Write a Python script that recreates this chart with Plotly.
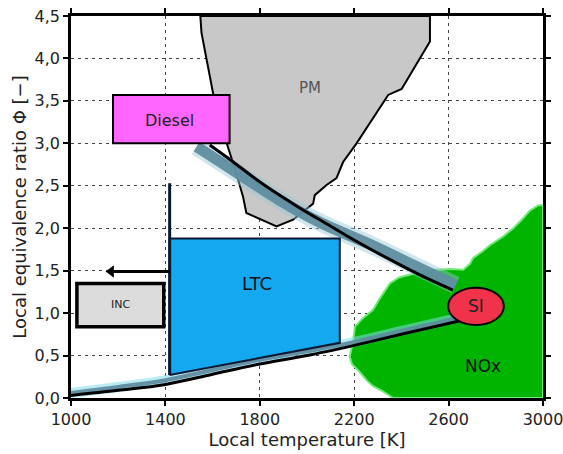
import plotly.graph_objects as go

# ---- data ----
x_ticks = [1000, 1400, 1800, 2200, 2600, 3000]
y_ticks = [0.0, 0.5, 1.0, 1.5, 2.0, 2.5, 3.0, 3.5, 4.0, 4.5]

pm_T = [1548, 1553, 1602, 1660, 1700, 1729, 1743, 1871, 1941, 2026, 2033, 2083, 2125, 2153, 2210, 2344, 2401, 2521, 2521, 1548]
pm_phi = [4.5, 4.30, 3.59, 3.0, 2.65, 2.37, 2.18, 2.02, 2.10, 2.29, 2.39, 2.51, 2.59, 2.78, 3.0, 3.57, 3.64, 4.20, 4.5, 4.5]

nox_T = [3000, 2365, 2320, 2280, 2252, 2225, 2190, 2181, 2195, 2203, 2240, 2280, 2310, 2351, 2390, 2436, 2500, 2549, 2610, 2662, 2690, 2704, 2740, 2775, 2830, 2874, 2910, 2945, 2980, 3000, 3000]
nox_phi = [0.0, 0.0, 0.08, 0.14, 0.21, 0.30, 0.40, 0.49, 0.66, 0.84, 0.95, 1.04, 1.18, 1.35, 1.42, 1.45, 1.50, 1.51, 1.52, 1.51, 1.58, 1.65, 1.72, 1.80, 1.90, 2.0, 2.10, 2.21, 2.27, 2.27, 0.0]

diesel_si_T = [1588, 1673, 1813, 1957, 2097, 2194, 2338, 2478, 2618]
diesel_si_phi = [2.98, 2.81, 2.52, 2.26, 2.03, 1.87, 1.65, 1.45, 1.27]

upper_band_T = [1532, 1600, 1884, 2054, 2266, 2478, 2630]
upper_band_phi = [2.96, 2.84, 2.33, 2.07, 1.81, 1.53, 1.33]

lower_T = [1000, 1200, 1400, 1600, 1800, 2000, 2200, 2400, 2650]
lower_phi = [0.03, 0.09, 0.16, 0.28, 0.40, 0.50, 0.62, 0.75, 0.91]
lower_band_phi = [0.06, 0.13, 0.21, 0.33, 0.45, 0.55, 0.66, 0.79, 0.95]

ltc_T = [1418, 1418, 2139, 2139, 1418]
ltc_phi = [0.27, 1.88, 1.88, 0.65, 0.27]
ltc_line_T = [1418, 1418]
ltc_line_phi = [2.53, 0.27]

diesel_box = [1178, 1672, 3.0, 3.57]
inc_box = [1025, 1393, 0.84, 1.35]
si_ellipse = [2598, 2834, 0.86, 1.30]
arrow_T = [1418, 1170]
arrow_phi = [1.49, 1.49]

labels = ["PM", "Diesel", "LTC", "INC", "SI", "NOx"]
label_T = [2012, 1419, 1787, 1209, 2716, 2745]
label_phi = [3.65, 3.27, 1.35, 1.10, 1.08, 0.38]

# ---- figure ----
fig = go.Figure()

fig.add_trace(go.Scatter(x=nox_T, y=nox_phi, mode="lines", fill="toself",
                         fillcolor="rgb(0,180,0)",
                         line=dict(color="rgb(110,235,120)", width=2), hoverinfo="skip"))
fig.add_trace(go.Scatter(x=pm_T, y=pm_phi, mode="lines", fill="toself",
                         fillcolor="rgb(200,200,200)",
                         line=dict(color="black", width=2), hoverinfo="skip"))
# shadow bands
fig.add_trace(go.Scatter(x=upper_band_T, y=upper_band_phi, mode="lines",
                         line=dict(color="rgba(150,200,215,0.45)", width=18, shape="spline"), hoverinfo="skip"))
fig.add_trace(go.Scatter(x=upper_band_T, y=upper_band_phi, mode="lines",
                         line=dict(color="rgba(95,142,160,0.95)", width=11, shape="spline"), hoverinfo="skip"))
fig.add_trace(go.Scatter(x=lower_T, y=lower_band_phi, mode="lines",
                         line=dict(color="rgba(130,220,235,0.55)", width=10, shape="spline"), hoverinfo="skip"))
fig.add_trace(go.Scatter(x=lower_T, y=lower_band_phi, mode="lines",
                         line=dict(color="rgba(95,140,160,0.95)", width=4, shape="spline"), hoverinfo="skip"))
# curves
fig.add_trace(go.Scatter(x=diesel_si_T, y=diesel_si_phi, mode="lines",
                         line=dict(color="black", width=3, shape="spline"), hoverinfo="skip"))
fig.add_trace(go.Scatter(x=lower_T, y=lower_phi, mode="lines",
                         line=dict(color="black", width=3, shape="spline"), hoverinfo="skip"))
# LTC
fig.add_trace(go.Scatter(x=ltc_T, y=ltc_phi, mode="lines", fill="toself",
                         fillcolor="rgb(20,168,240)",
                         line=dict(color="rgb(10,25,50)", width=2), hoverinfo="skip"))
fig.add_trace(go.Scatter(x=ltc_line_T, y=ltc_line_phi, mode="lines",
                         line=dict(color="rgb(10,25,50)", width=3), hoverinfo="skip"))
# arrow
fig.add_trace(go.Scatter(x=arrow_T, y=arrow_phi, mode="lines",
                         line=dict(color="black", width=3), hoverinfo="skip"))
fig.add_trace(go.Scatter(x=arrow_T[1:], y=arrow_phi[1:], mode="markers",
                         marker=dict(symbol="triangle-left", size=11, color="black"), hoverinfo="skip"))

fig.add_shape(type="rect", x0=diesel_box[0], x1=diesel_box[1], y0=diesel_box[2], y1=diesel_box[3],
              fillcolor="rgb(255,102,255)", line=dict(color="black", width=2), layer="above")
fig.add_shape(type="rect", x0=inc_box[0], x1=inc_box[1], y0=inc_box[2], y1=inc_box[3],
              fillcolor="rgb(220,220,220)", line=dict(color="black", width=3.5), layer="above")
fig.add_shape(type="circle", x0=si_ellipse[0], x1=si_ellipse[1], y0=si_ellipse[2], y1=si_ellipse[3],
              fillcolor="rgb(240,50,75)", line=dict(color="black", width=2), layer="above")

sizes = [15, 16, 18, 11, 17, 17]
colors = ["#555555", "#222222", "#111111", "#222222", "#222222", "#111111"]
for t, x, y, s, c in zip(labels, label_T, label_phi, sizes, colors):
    fig.add_annotation(x=x, y=y, text=t, showarrow=False, font=dict(size=s, color=c))

fig.update_layout(
    width=563, height=454,
    margin=dict(l=71, r=20, t=16, b=56),
    paper_bgcolor="white", plot_bgcolor="white",
    showlegend=False,
    separators=",.",
    font=dict(family="DejaVu Sans", color="#222222"),
)
fig.update_xaxes(range=[1000, 3000], tickvals=x_ticks, tickformat="d", automargin=False,
                 ticklabeloverflow="allow",
                 showline=True, linecolor="black", linewidth=2.5, mirror="ticks",
                 ticks="outside", ticklen=5, tickwidth=1.5, tickcolor="black",
                 showgrid=True, gridcolor="#444444", gridwidth=1, griddash="3px,4px",
                 zeroline=False, tickfont=dict(size=16),
                 title=dict(text="Local temperature [K]", font=dict(size=18), standoff=2))
fig.update_yaxes(range=[0, 4.5], tickvals=y_ticks, tickformat=".1f", automargin=False,
                 ticklabeloverflow="allow",
                 showline=True, linecolor="black", linewidth=2.5, mirror="ticks",
                 ticks="outside", ticklen=5, tickwidth=1.5, tickcolor="black",
                 showgrid=True, gridcolor="#444444", gridwidth=1, griddash="3px,4px",
                 zeroline=False, tickfont=dict(size=16),
                 title=dict(text="Local equivalence ratio Φ [−]", font=dict(size=18), standoff=4))

fig.write_html("out.html", config={"displayModeBar": False},
               post_script="document.body.style.margin='0';")
